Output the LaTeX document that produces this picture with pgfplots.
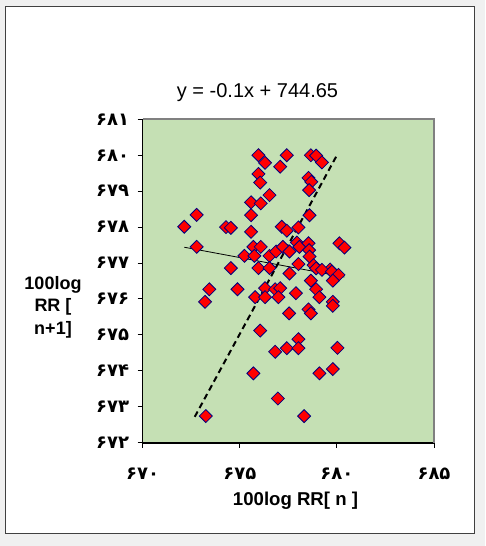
\documentclass[border=0pt]{standalone}
\usepackage{fontspec}
\setmainfont{Liberation Sans}
\newfontfamily\fa[Script=Arabic]{DejaVu Sans}
\usepackage{pgfplots}
\pgfplotsset{compat=1.18}
\definecolor{plotbg}{RGB}{197,224,180}
\definecolor{navy}{RGB}{0,0,128}
\definecolor{outerbg}{RGB}{240,240,240}
\begin{document}
\begin{tikzpicture}[x=1pt,y=1pt]
\fill[outerbg] (-142.7,-103.3) rectangle (342.3,442.7);
\filldraw[fill=white, draw=black!75, line width=0.8pt] (-137.7,-90.3) rectangle (331.3,436.7);
\begin{axis}[
  at={(0,0)}, anchor=south west,
  scale only axis, width=291.3pt, height=323.4pt,
  xmin=670, xmax=685, ymin=672, ymax=681,
  xtick={670,675,680,685},
  xticklabels={۶۷۰,۶۷۵,۶۸۰,۶۸۵},
  ytick={672,673,674,675,676,677,678,679,680,681},
  yticklabels={۶۷۲,۶۷۳,۶۷۴,۶۷۵,۶۷۶,۶۷۷,۶۷۸,۶۷۹,۶۸۰,۶۸۱},
  axis background/.style={fill=plotbg},
  axis x line*=bottom, axis y line*=left,
  tick align=outside, major tick length=5pt,
  tick style={black, line width=1pt},
  axis line style={black, line width=1.6pt},
  ticklabel style={font=\fontsize{18}{18}\selectfont\fa\bfseries},
  xticklabel style={yshift=-17pt},
  yticklabel style={xshift=-5pt},
  clip=false,
]
\addplot[only marks, mark=square*, mark size=4.6pt,
  mark options={rotate=45, fill=red, draw=navy, line width=0.8pt}]
coordinates {
(675.96,680.00) (676.30,679.79) (677.42,680.00) (677.08,679.68) (678.66,680.00)
(678.93,679.99) (679.23,679.80) (675.96,679.48) (676.05,679.24) (678.54,679.37)
(678.68,679.26) (678.57,679.03) (676.53,678.89) (675.58,678.69) (676.08,678.66)
(672.78,678.34) (672.14,678.01) (675.58,678.33) (678.59,678.33) (674.29,678.00)
(674.54,677.98) (675.58,677.87) (677.16,678.01) (677.42,677.90) (678.02,677.99)
(672.78,677.45) (680.13,677.55) (680.39,677.43) (675.70,677.45) (676.08,677.45)
(675.24,677.20) (675.75,677.20) (676.53,677.20) (676.87,677.32) (677.22,677.45)
(677.56,677.32) (677.94,677.57) (678.07,677.45) (678.54,677.55) (678.57,677.36)
(678.59,677.18) (678.02,676.97) (678.80,676.94) (674.54,676.86) (675.96,676.86)
(676.53,676.86) (679.65,676.82) (678.93,676.85) (679.23,676.81) (679.74,676.76)
(680.08,676.67) (677.56,676.71) (679.79,676.51) (678.66,676.51) (678.93,676.27)
(679.10,676.05) (673.43,676.27) (673.21,675.92) (674.88,676.27) (675.79,676.05)
(676.30,676.30) (676.30,676.05) (676.82,676.27) (677.08,676.30) (676.99,676.05)
(677.89,676.16) (679.79,675.92) (679.79,675.81) (678.54,675.71) (678.66,675.60)
(677.54,675.60) (676.05,675.12) (678.02,674.88) (677.42,674.63) (678.02,674.63)
(676.82,674.53) (680.03,674.64) (675.70,673.93) (679.10,673.93) (679.79,674.05)
(676.96,673.23) (673.25,672.74) (678.31,672.74)
};
\addplot[black, line width=0.8pt] coordinates {(672.14,677.44) (680.39,676.61)};
\addplot[black, line width=2pt, dash pattern=on 6pt off 4pt] coordinates {(672.68,672.72) (679.96,679.96)};
\draw[black!50, line width=1.8pt] (axis cs:670,681) -- (axis cs:685,681) -- (axis cs:685,672);
\end{axis}
\node[font=\fontsize{20}{24}\selectfont] at (114.8,350) {y = -0.1x + 744.65};
\node[font=\fontsize{18.6}{22}\selectfont\bfseries] at (152.8,-58) {100log RR[ n ]};
\node[font=\fontsize{18}{22.5}\selectfont\bfseries, align=center] at (-89.7,135.7) {100log\\RR [\\n+1]};
\end{tikzpicture}
\end{document}
